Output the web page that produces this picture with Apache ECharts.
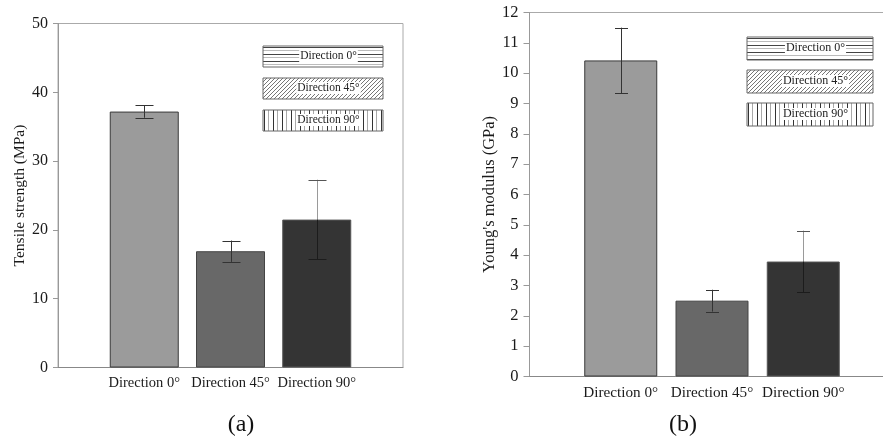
<!DOCTYPE html>
<html>
<head>
<meta charset="utf-8">
<script src="https://cdn.jsdelivr.net/npm/echarts@6/dist/echarts.min.js"></script>
<style>
html,body{margin:0;padding:0;background:#fff;}
#c{width:883px;height:439px;}
</style>
</head>
<body>
<div id="c"></div>
<script>
// ---- data ----
var categories = ['Direction 0°', 'Direction 45°', 'Direction 90°'];
var tensileValues = [37.2, 16.9, 21.5];
var tensileErrors = [0.9, 1.55, 5.8];
var modulusValues = [10.42, 2.5, 3.79];
var modulusErrors = [1.08, 0.36, 1.02];
var tensileTicks = { min: 0, max: 50, interval: 10 };
var modulusTicks = { min: 0, max: 12, interval: 1 };
var legendLabels = ['Direction 0°', 'Direction 45°', 'Direction 90°'];

var FONT = '"Liberation Serif", "Times New Roman", serif';
var barColors = ['#9b9b9b', '#686868', '#343434'];
var barBorders = ['#3a3a3a', '#444444', '#555555'];

// padded category axis: bars sit at positions 1..3 of 0..4
var axisCats = [''].concat(categories).concat(['']);

function barData(vals) {
  return vals.map(function (v, i) {
    return { value: [i + 1, v], itemStyle: { color: barColors[i], borderColor: barBorders[i], borderWidth: 1 } };
  });
}
function errData(vals, errs) {
  return vals.map(function (v, i) { return [i + 1, v - errs[i], v + errs[i], v, i]; });
}
function errRender(capHalf) {
  return function (params, api) {
    var x = api.value(0), lo = api.value(1), hi = api.value(2), v = api.value(3), idx = api.value(4);
    var pLo = api.coord([x, lo]), pHi = api.coord([x, hi]), pV = api.coord([x, v]);
    var cx = Math.round(pLo[0]) + 0.5;
    var children = [];
    if (idx === 2) {
      children.push({ type: 'line', shape: { x1: cx, y1: pHi[1], x2: cx, y2: pV[1] }, style: { stroke: '#9a9a9a', lineWidth: 1 } });
      children.push({ type: 'line', shape: { x1: cx, y1: pV[1], x2: cx, y2: pLo[1] }, style: { stroke: '#1c1c1c', lineWidth: 1 } });
    } else {
      children.push({ type: 'line', shape: { x1: cx, y1: pHi[1], x2: cx, y2: pLo[1] }, style: { stroke: '#333', lineWidth: 1 } });
    }
    var capColor = idx === 2 ? '#555' : '#333';
    var capLoColor = idx === 2 ? '#1c1c1c' : '#333';
    children.push({ type: 'line', shape: { x1: cx - capHalf, y1: Math.round(pHi[1]) + 0.5, x2: cx + capHalf, y2: Math.round(pHi[1]) + 0.5 }, style: { stroke: capColor, lineWidth: 1 } });
    children.push({ type: 'line', shape: { x1: cx - capHalf, y1: Math.round(pLo[1]) + 0.5, x2: cx + capHalf, y2: Math.round(pLo[1]) + 0.5 }, style: { stroke: capLoColor, lineWidth: 1 } });
    return { type: 'group', children: children };
  };
}

// ---- legend patterns ----
function makePattern(kind) {
  var c = document.createElement('canvas');
  var ctx;
  if (kind === 'h') {
    c.width = 8; c.height = 7; ctx = c.getContext('2d');
    ctx.fillStyle = '#fff'; ctx.fillRect(0, 0, 8, 7);
    ctx.fillStyle = '#444'; ctx.fillRect(0, 1, 8, 1);
    ctx.fillStyle = '#bbb'; ctx.fillRect(0, 4, 8, 1);
  } else if (kind === 'd') {
    c.width = 4; c.height = 4; ctx = c.getContext('2d');
    ctx.fillStyle = '#fff'; ctx.fillRect(0, 0, 4, 4);
    ctx.strokeStyle = '#666'; ctx.lineWidth = 0.9;
    ctx.beginPath();
    ctx.moveTo(0, 4); ctx.lineTo(4, 0);
    ctx.moveTo(-1, 1); ctx.lineTo(1, -1);
    ctx.moveTo(3, 5); ctx.lineTo(5, 3);
    ctx.stroke();
  } else {
    c.width = 9; c.height = 8; ctx = c.getContext('2d');
    ctx.fillStyle = '#fff'; ctx.fillRect(0, 0, 9, 8);
    ctx.fillStyle = '#333'; ctx.fillRect(1, 0, 1, 8);
    ctx.fillStyle = '#aaa'; ctx.fillRect(5, 0, 1, 8);
  }
  return { image: c, repeat: 'repeat' };
}
var patterns = [makePattern('h'), makePattern('d'), makePattern('v')];

function legendGraphics(x, ys, w, h, fs) {
  var out = [];
  ys.forEach(function (y, i) {
    out.push({ type: 'rect', left: x, top: y, shape: { x: 0, y: 0, width: w, height: h },
      style: { fill: patterns[i], stroke: '#666', lineWidth: 1 }, z: 10 });
    out.push({ type: 'text', x: x + w / 2 + 6, y: y + h / 2, z: 11,
      style: { text: legendLabels[i], font: fs + 'px ' + FONT, fill: '#222', align: 'center', verticalAlign: 'middle',
        backgroundColor: '#fff', padding: [0, 1] } });
  });
  return out;
}

var axisLabelColor = '#1a1a1a';

var option = {
  animation: false,
  backgroundColor: '#fff',
  grid: [
    { left: 58, top: 23.5, width: 345, height: 344, show: true, borderColor: '#aaa', borderWidth: 1, containLabel: false, outerBoundsMode: 'none' },
    { left: 529.5, top: 12.5, width: 365, height: 364, show: true, borderColor: '#aaa', borderWidth: 1, containLabel: false, outerBoundsMode: 'none' }
  ],
  xAxis: [
    { type: 'category', gridIndex: 0, data: axisCats, boundaryGap: false,
      axisLine: { lineStyle: { color: '#888' } }, axisTick: { show: false },
      axisLabel: { interval: 0, margin: 8, fontFamily: FONT, fontSize: 14.5, color: axisLabelColor } },
    { type: 'category', gridIndex: 1, data: axisCats, boundaryGap: false,
      axisLine: { lineStyle: { color: '#888' } }, axisTick: { show: false },
      axisLabel: { interval: 0, margin: 9, fontFamily: FONT, fontSize: 15.2, color: axisLabelColor } }
  ],
  yAxis: [
    { type: 'value', gridIndex: 0, min: tensileTicks.min, max: tensileTicks.max, interval: tensileTicks.interval,
      name: 'Tensile strength (MPa)', nameLocation: 'middle', nameGap: 26,
      nameTextStyle: { fontFamily: FONT, fontSize: 15.5, color: axisLabelColor },
      axisLine: { show: true, lineStyle: { color: '#999' } },
      axisTick: { show: true, length: 5, lineStyle: { color: '#999' } },
      splitLine: { show: false },
      axisLabel: { margin: 10, fontFamily: FONT, fontSize: 16, color: axisLabelColor } },
    { type: 'value', gridIndex: 1, min: modulusTicks.min, max: modulusTicks.max, interval: modulusTicks.interval,
      name: "Young's modulus (GPa)", nameLocation: 'middle', nameGap: 31,
      nameTextStyle: { fontFamily: FONT, fontSize: 16.5, color: axisLabelColor },
      axisLine: { show: true, lineStyle: { color: '#999' } },
      axisTick: { show: true, length: 6, lineStyle: { color: '#999' } },
      splitLine: { show: false },
      axisLabel: { margin: 11, fontFamily: FONT, fontSize: 16.5, color: axisLabelColor } }
  ],
  series: [
    { type: 'bar', xAxisIndex: 0, yAxisIndex: 0, barWidth: 69, data: barData(tensileValues) },
    { type: 'custom', xAxisIndex: 0, yAxisIndex: 0, renderItem: errRender(9), data: errData(tensileValues, tensileErrors), z: 5 },
    { type: 'bar', xAxisIndex: 1, yAxisIndex: 1, barWidth: 73, data: barData(modulusValues) },
    { type: 'custom', xAxisIndex: 1, yAxisIndex: 1, renderItem: errRender(6.5), data: errData(modulusValues, modulusErrors), z: 5 }
  ],
  graphic: legendGraphics(262.5, [45.5, 77.5, 109.5], 120, 21, 11.5)
    .concat(legendGraphics(746.5, [36.5, 69.5, 102.5], 126, 23, 12))
    .concat([
      { type: 'text', x: 241, y: 425, style: { text: '(a)', font: '24px ' + FONT, fill: '#111', align: 'center', verticalAlign: 'middle' } },
      { type: 'text', x: 683, y: 425, style: { text: '(b)', font: '24px ' + FONT, fill: '#111', align: 'center', verticalAlign: 'middle' } }
    ])
};

var chart = echarts.init(document.getElementById('c'), null, { renderer: 'canvas' });
chart.setOption(option);
</script>
</body>
</html>
